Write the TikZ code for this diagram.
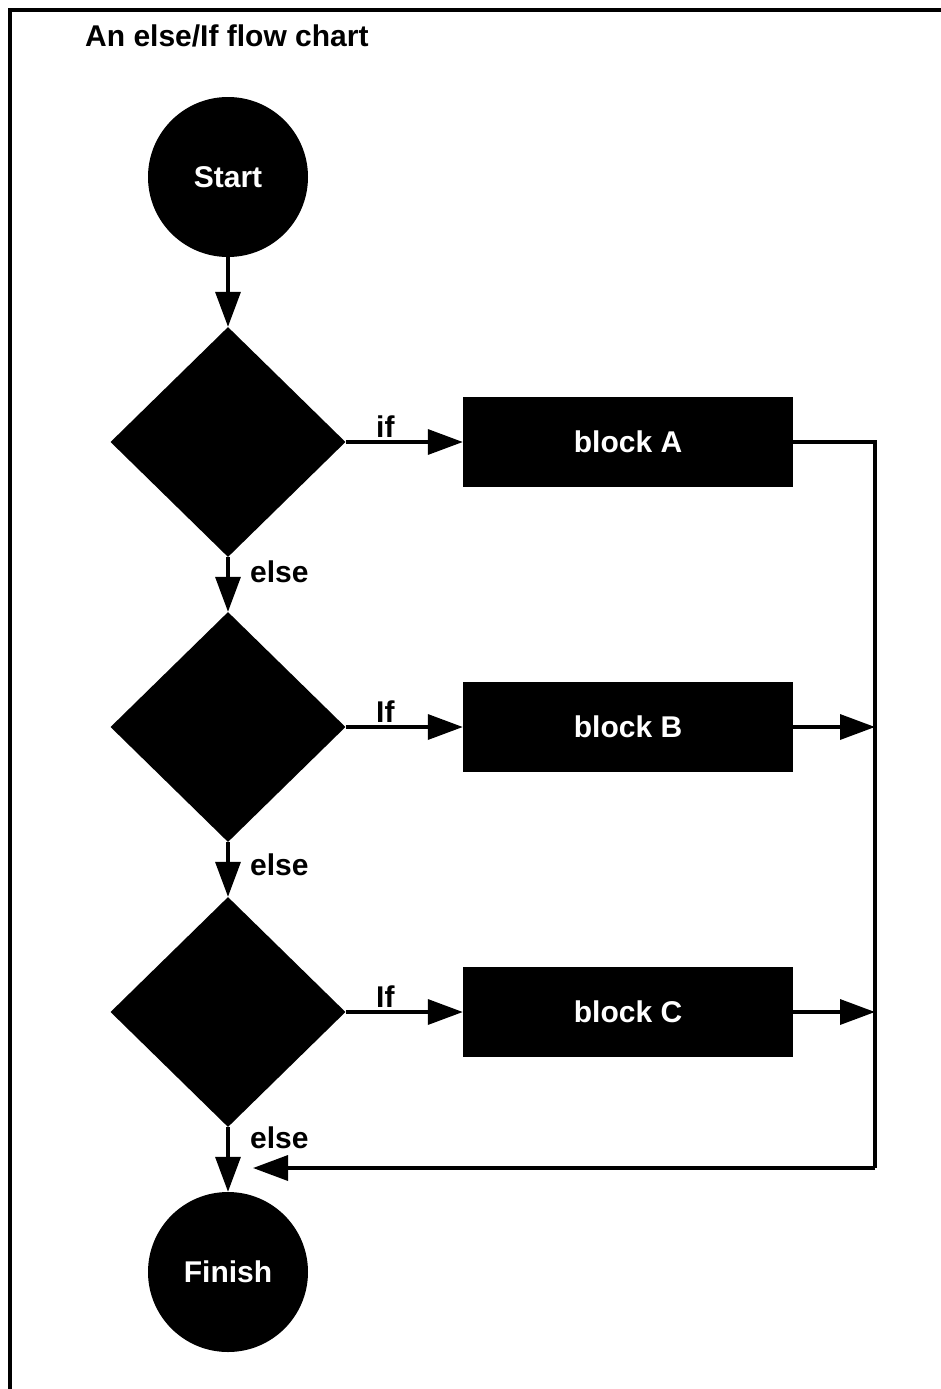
\documentclass[tikz,border=0pt]{standalone}
\usepackage{fontspec}
\setmainfont{Liberation Sans}
\usetikzlibrary{shapes.geometric,arrows.meta}
\begin{document}
\begin{tikzpicture}[x=1pt,y=-1pt,
  every node/.style={font=\bfseries\fontsize{30}{32}\selectfont},
  term/.style={circle,fill=black,text=white,minimum size=160pt,inner sep=0pt},
  decide/.style={diamond,fill=black,minimum width=235pt,minimum height=230pt,inner sep=0pt},
  blockbox/.style={rectangle,fill=black,text=white,minimum width=330pt,minimum height=90pt,inner sep=0pt},
  conn/.style={line width=3.5pt},
  arr/.style={conn,-{Triangle[length=35pt,width=25pt]}},
  lbl/.style={inner sep=0pt,anchor=base west}]
\useasboundingbox (0,0) rectangle (941,1389);
% frame
\draw[line width=4pt] (10,1389) -- (10,10) -- (941,10);
\node[lbl] (title) at (85,47) {An else/If flow chart};
% nodes
\node[term] (start) at (228,177) {Start};
\node[decide] (d1) at (228,442) {};
\node[decide] (d2) at (228,727) {};
\node[decide] (d3) at (228,1012) {};
\node[term] (finish) at (228,1272) {Finish};
\node[blockbox] (A) at (628,442) {block A};
\node[blockbox] (B) at (628,727) {block B};
\node[blockbox] (C) at (628,1012) {block C};
\coordinate (railA) at (875,442);
\coordinate (railbot) at (875,1168);
\coordinate (tipF) at (253,1168);
% connectors
\draw[arr] (start.south) -- (d1.north);
\draw[arr] (d1.south) -- (d2.north);
\draw[arr] (d2.south) -- (d3.north);
\draw[arr] (d3.south) -- (finish.north);
\draw[arr] (d1.east) -- (A.west);
\draw[arr] (d2.east) -- (B.west);
\draw[arr] (d3.east) -- (C.west);
\draw[conn] (A.east) -- (railA) -- (railbot);
\draw[arr] (B.east) -- (B.east -| railA);
\draw[arr] (C.east) -- (C.east -| railA);
\draw[arr] (railbot) -- (tipF);
% labels
\node[lbl] (l1) at (376,437) {if};
\node[lbl] (l2) at (376,722) {If};
\node[lbl] (l3) at (376,1007) {If};
\node[lbl] (e1) at (250,582) {else};
\node[lbl] (e2) at (250,875) {else};
\node[lbl] (e3) at (250,1148) {else};
\end{tikzpicture}
\end{document}
